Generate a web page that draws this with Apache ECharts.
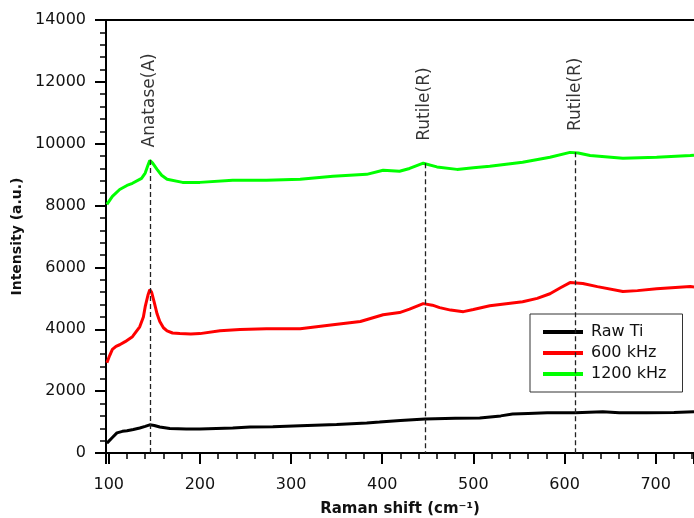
<!DOCTYPE html>
<html>
<head>
<meta charset="utf-8">
<script src="https://cdn.jsdelivr.net/npm/echarts@6/dist/echarts.min.js"></script>
<style>
  html, body { margin: 0; padding: 0; background: #fff; }
  #chart { width: 694px; height: 518px; }
</style>
</head>
<body>
<div id="chart"></div>
<script>
// Raman spectra
var rawTiX = [98, 104, 109, 115, 120, 127, 134, 140, 145, 150, 156, 167, 185, 200, 236, 255, 280, 310, 350, 383, 397, 420, 447, 480, 507, 530, 543, 560, 581, 600, 612, 642, 660, 690, 720, 742];
var rawTiY = [320, 500, 650, 700, 720, 760, 810, 860, 910, 890, 840, 790, 780, 780, 810, 840, 850, 880, 920, 970, 1000, 1050, 1100, 1120, 1130, 1200, 1260, 1280, 1300, 1300, 1300, 1330, 1300, 1300, 1310, 1330];

var khz600X = [98, 101, 104, 108, 112, 118, 126, 134, 138, 140, 143, 145, 147, 150, 153, 156, 160, 164, 170, 178, 190, 200, 222, 244, 273, 310, 346, 376, 401, 419, 430, 445, 455, 463, 475, 489, 500, 518, 554, 570, 584, 596, 606, 620, 636, 664, 680, 701, 738, 742];
var khz600Y = [2920, 3150, 3350, 3450, 3500, 3600, 3760, 4080, 4400, 4730, 5100, 5280, 5200, 4860, 4500, 4250, 4050, 3950, 3880, 3860, 3850, 3860, 3950, 3990, 4020, 4020, 4150, 4250, 4470, 4540, 4650, 4830, 4780, 4700, 4620, 4570, 4640, 4760, 4890, 5000, 5150, 5350, 5510, 5480, 5380, 5220, 5250, 5310, 5380, 5370];

var khz1200X = [98, 104, 112, 120, 126, 136, 140, 143, 145, 148, 153, 158, 164, 181, 200, 236, 273, 310, 346, 383, 401, 419, 430, 445, 460, 482, 500, 518, 554, 584, 606, 615, 628, 664, 701, 738, 742];
var khz1200Y = [8040, 8300, 8520, 8650, 8720, 8880, 9050, 9300, 9460, 9380, 9170, 8980, 8850, 8750, 8750, 8820, 8820, 8850, 8950, 9010, 9140, 9110, 9200, 9370, 9250, 9170, 9220, 9270, 9400, 9560, 9720, 9700, 9620, 9530, 9560, 9620, 9630];

// peak markers: position, top of dashed line, label centre
var peakNames = ['Anatase(A)', 'Rutile(R)', 'Rutile(R)'];
var peakX = [145, 447, 612];
var peakTop = [9470, 9370, 9720];
var peakLabelY = [11400, 11280, 11600];

var seriesNames = ['Raw Ti', '600 kHz', '1200 kHz'];

function pairs(xs, ys) {
  return xs.map(function (x, i) { return [x, ys[i]]; });
}

var font = 'DejaVu Sans';
var textColor = '#111';

var chart = echarts.init(document.getElementById('chart'));
chart.setOption({
  backgroundColor: '#fff',
  animation: false,
  textStyle: { fontFamily: font },
  grid: { left: 106, top: 20, right: 0, bottom: 65, outerBoundsMode: 'none', containLabel: false },
  legend: {
    data: seriesNames,
    orient: 'vertical',
    left: 530,
    top: 314,
    icon: 'rect',
    itemWidth: 40,
    itemHeight: 4,
    itemGap: 5,
    padding: [10, 16, 10, 13],
    borderColor: '#333',
    borderWidth: 1,
    borderRadius: 0,
    backgroundColor: '#fff',
    textStyle: { fontSize: 16, lineHeight: 16, color: textColor, fontFamily: font, padding: [0, 0, 0, 3] }
  },
  xAxis: [{
    type: 'value',
    min: 97,
    max: 742,
    minInterval: 100,
    maxInterval: 100,
    name: 'Raman shift (cm\u207B\u00B9)',
    nameLocation: 'middle',
    nameGap: 49,
    nameTextStyle: { fontSize: 15, fontWeight: 'bold', color: textColor, fontFamily: font },
    axisLine: { lineStyle: { color: '#000', width: 2 } },
    axisTick: { length: 11, lineStyle: { color: '#000', width: 2 } },
    minorTick: { show: true, splitNumber: 5, length: 6, lineStyle: { color: '#000', width: 1.5 } },
    axisLabel: { fontSize: 16, color: textColor, margin: 24, showMinLabel: false, showMaxLabel: false, fontFamily: font },
    splitLine: { show: false }
  }, {
    type: 'value',
    position: 'top',
    min: 97,
    max: 742,
    axisLine: { show: true, onZero: false, lineStyle: { color: '#000', width: 2 } },
    axisTick: { show: false },
    axisLabel: { show: false },
    splitLine: { show: false }
  }],
  yAxis: {
    type: 'value',
    min: 0,
    max: 14000,
    interval: 2000,
    name: 'Intensity (a.u.)',
    nameLocation: 'middle',
    nameGap: 79,
    nameTextStyle: { fontSize: 14, fontWeight: 'bold', color: textColor, fontFamily: font },
    axisLine: { show: true, lineStyle: { color: '#000', width: 2 } },
    axisTick: { show: true, length: 11, lineStyle: { color: '#000', width: 2 } },
    minorTick: { show: true, splitNumber: 5, length: 6, lineStyle: { color: '#000', width: 1.5 } },
    axisLabel: {
      fontSize: 16, color: textColor, margin: 20, fontFamily: font,
      formatter: function (v) { return String(v); }
    },
    splitLine: { show: false }
  },
  series: [{
    name: seriesNames[0],
    type: 'line',
    data: pairs(rawTiX, rawTiY),
    showSymbol: false,
    lineStyle: { color: '#000', width: 3 },
    itemStyle: { color: '#000' },
    markLine: {
      silent: true,
      symbol: 'none',
      z: 10,
      label: { show: false },
      lineStyle: { color: '#222', width: 1.3, type: [5, 3] },
      data: peakX.map(function (x, i) {
        return [{ coord: [x, peakTop[i]] }, { coord: [x, 0] }];
      })
    }
  }, {
    name: seriesNames[1],
    type: 'line',
    data: pairs(khz600X, khz600Y),
    showSymbol: false,
    lineStyle: { color: '#ff0000', width: 3 },
    itemStyle: { color: '#ff0000' }
  }, {
    name: seriesNames[2],
    type: 'line',
    data: pairs(khz1200X, khz1200Y),
    showSymbol: false,
    lineStyle: { color: '#00ff00', width: 3 },
    itemStyle: { color: '#00ff00' }
  }, {
    name: 'peaks',
    type: 'scatter',
    symbolSize: 0,
    silent: true,
    data: peakX.map(function (x, i) { return [x, peakLabelY[i], peakNames[i]]; }),
    label: {
      show: true,
      position: 'inside',
      rotate: 90,
      fontSize: 17,
      color: '#000',
      fontFamily: font,
      formatter: function (p) { return p.data[2]; }
    }
  }]
});
</script>
</body>
</html>
